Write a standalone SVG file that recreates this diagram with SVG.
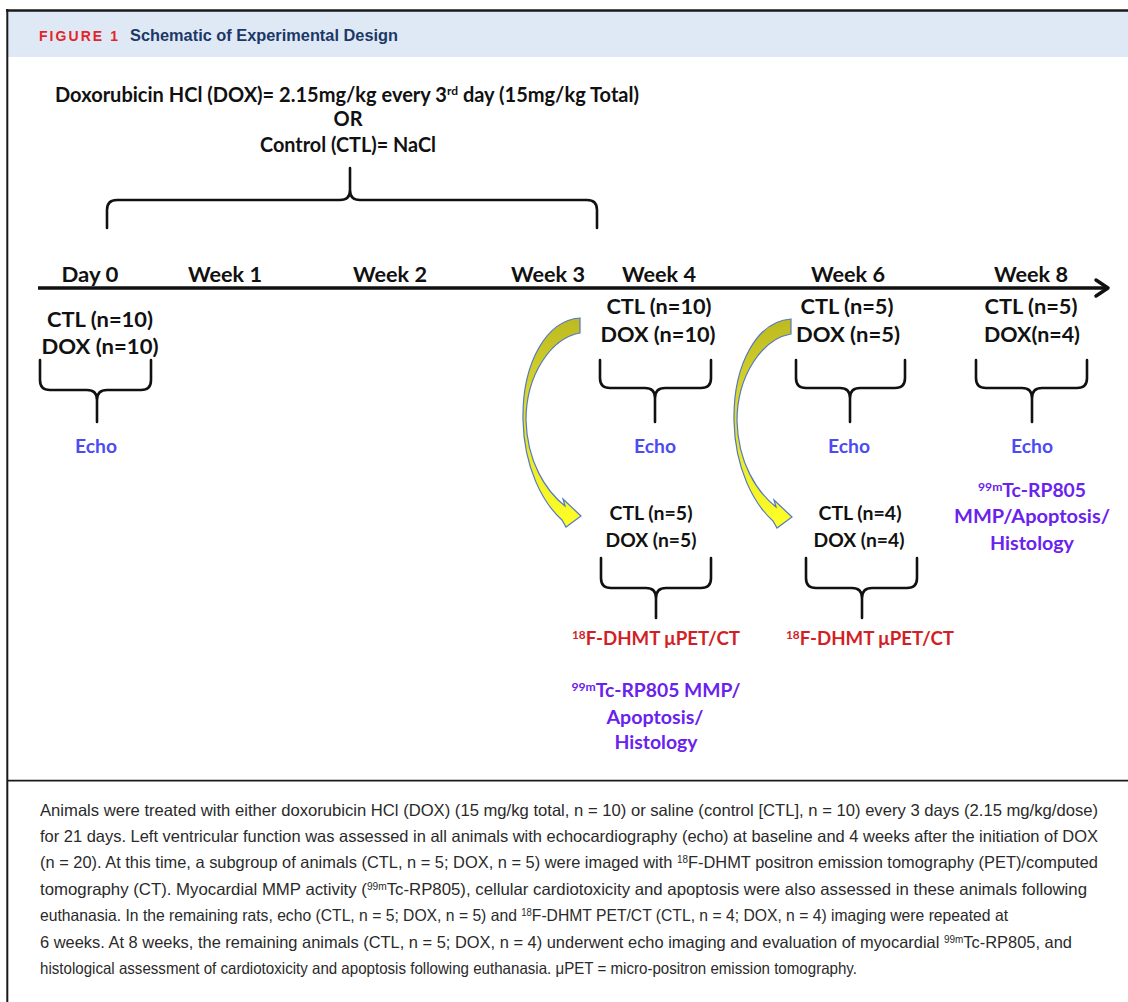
<svg xmlns="http://www.w3.org/2000/svg" width="1128" height="1002" viewBox="0 0 1128 1002">
<defs>
<style>
.d{font-family:Lato,"Open Sans","Liberation Sans",sans-serif;font-weight:bold;fill:#111;text-anchor:middle}
.wk{font-size:21px}
.n{font-size:21px}
.ns{font-size:19px}
.echo{font-size:18px;fill:#4c4cf2}
.pur{font-size:19px;fill:#6a22ee}
.red{font-size:19px;fill:#d21f26}
.sup{font-size:12px}
.br{fill:none;stroke:#111;stroke-width:2.6;stroke-linecap:round;stroke-linejoin:round}
.cap{font-family:"Liberation Sans",Arial,sans-serif;font-size:16.5px;fill:#2a2a2a}
.csup{font-size:10px}
.ya{fill:url(#yg);stroke:#5677c4;stroke-width:1.2}
</style>
<linearGradient id="yg" x1="0" y1="0" x2="0" y2="1">
<stop offset="0" stop-color="#bdb922"/>
<stop offset="0.45" stop-color="#dede2a"/>
<stop offset="1" stop-color="#ffff26"/>
</linearGradient>
</defs>
<rect x="0" y="0" width="1128" height="1002" fill="#fff"/>

<g id="frame">
<rect x="7" y="11" width="1121" height="46" fill="#dfe9f5"/>
<line x1="6" y1="10.5" x2="1128" y2="10.5" stroke="#1a1a1a" stroke-width="2.5"/>
<line x1="7.3" y1="9" x2="7.3" y2="1002" stroke="#1a1a1a" stroke-width="2"/>
<line x1="7" y1="780.7" x2="1128" y2="780.7" stroke="#1a1a1a" stroke-width="1.8"/>
</g>

<g id="header">
<text x="39" y="41" font-family="'Liberation Sans',Arial,sans-serif" font-weight="bold" font-size="14" fill="#e3242b" textLength="79" lengthAdjust="spacing">FIGURE 1</text>
<text x="130" y="41" font-family="'Liberation Sans',Arial,sans-serif" font-weight="bold" font-size="16.5" fill="#1c3867" textLength="268" lengthAdjust="spacingAndGlyphs">Schematic of Experimental Design</text>
</g>

<g id="treatment">
<text class="d" x="347" y="102" font-size="20" textLength="584" lengthAdjust="spacingAndGlyphs">Doxorubicin HCl (DOX)= 2.15mg/kg every 3<tspan class="sup" dy="-7">rd</tspan><tspan dy="7"> day (15mg/kg Total)</tspan></text>
<text class="d" x="348" y="126" font-size="20">OR</text>
<text class="d" x="348" y="152" font-size="20" textLength="176" lengthAdjust="spacingAndGlyphs">Control (CTL)= NaCl</text>
</g>

<g id="timeline-labels">
<text class="d wk" x="90" y="282" textLength="57" lengthAdjust="spacingAndGlyphs">Day 0</text>
<text class="d wk" x="225" y="282" textLength="74" lengthAdjust="spacingAndGlyphs">Week 1</text>
<text class="d wk" x="390" y="282" textLength="74" lengthAdjust="spacingAndGlyphs">Week 2</text>
<text class="d wk" x="548" y="282" textLength="74" lengthAdjust="spacingAndGlyphs">Week 3</text>
<text class="d wk" x="659" y="282" textLength="74" lengthAdjust="spacingAndGlyphs">Week 4</text>
<text class="d wk" x="848" y="282" textLength="74" lengthAdjust="spacingAndGlyphs">Week 6</text>
<text class="d wk" x="1031" y="282" textLength="74" lengthAdjust="spacingAndGlyphs">Week 8</text>
</g>

<g id="day0">
<text class="d n" x="100" y="327" textLength="106" lengthAdjust="spacingAndGlyphs">CTL (n=10)</text>
<text class="d n" x="100" y="354" textLength="117" lengthAdjust="spacingAndGlyphs">DOX (n=10)</text>
<text class="d echo" x="96" y="453" textLength="42" lengthAdjust="spacingAndGlyphs">Echo</text>
</g>

<g id="week4">
<text class="d n" x="659" y="314" textLength="105" lengthAdjust="spacingAndGlyphs">CTL (n=10)</text>
<text class="d n" x="658" y="342" textLength="115" lengthAdjust="spacingAndGlyphs">DOX (n=10)</text>
<text class="d echo" x="655" y="453" textLength="42" lengthAdjust="spacingAndGlyphs">Echo</text>
</g>

<g id="week6">
<text class="d n" x="847" y="314" textLength="93" lengthAdjust="spacingAndGlyphs">CTL (n=5)</text>
<text class="d n" x="848" y="342" textLength="104" lengthAdjust="spacingAndGlyphs">DOX (n=5)</text>
<text class="d echo" x="849" y="453" textLength="42" lengthAdjust="spacingAndGlyphs">Echo</text>
</g>

<g id="week8">
<text class="d n" x="1031" y="314" textLength="93" lengthAdjust="spacingAndGlyphs">CTL (n=5)</text>
<text class="d n" x="1032" y="342" textLength="96" lengthAdjust="spacingAndGlyphs">DOX(n=4)</text>
<text class="d echo" x="1032" y="453" textLength="42" lengthAdjust="spacingAndGlyphs">Echo</text>
<text class="d pur" x="1032" y="497" textLength="108" lengthAdjust="spacingAndGlyphs"><tspan class="sup" dy="-6">99m</tspan><tspan dy="6">Tc-RP805</tspan></text>
<text class="d pur" x="1032" y="523" textLength="156" lengthAdjust="spacingAndGlyphs">MMP/Apoptosis/</text>
<text class="d pur" x="1032" y="550" textLength="84" lengthAdjust="spacingAndGlyphs">Histology</text>
</g>

<g id="week4-pet">
<text class="d ns" x="651" y="520" textLength="83" lengthAdjust="spacingAndGlyphs">CTL (n=5)</text>
<text class="d ns" x="651" y="547" textLength="91" lengthAdjust="spacingAndGlyphs">DOX (n=5)</text>
<text class="d red" x="656" y="645" textLength="168" lengthAdjust="spacingAndGlyphs"><tspan class="sup" dy="-6">18</tspan><tspan dy="6">F-DHMT μPET/CT</tspan></text>
<text class="d pur" x="656" y="697" textLength="169" lengthAdjust="spacingAndGlyphs"><tspan class="sup" dy="-6">99m</tspan><tspan dy="6">Tc-RP805 MMP/</tspan></text>
<text class="d pur" x="655" y="724" textLength="97" lengthAdjust="spacingAndGlyphs">Apoptosis/</text>
<text class="d pur" x="656" y="749" textLength="83" lengthAdjust="spacingAndGlyphs">Histology</text>
</g>

<g id="week6-pet">
<text class="d ns" x="860" y="520" textLength="83" lengthAdjust="spacingAndGlyphs">CTL (n=4)</text>
<text class="d ns" x="859" y="547" textLength="91" lengthAdjust="spacingAndGlyphs">DOX (n=4)</text>
<text class="d red" x="870" y="645" textLength="168" lengthAdjust="spacingAndGlyphs"><tspan class="sup" dy="-6">18</tspan><tspan dy="6">F-DHMT μPET/CT</tspan></text>
</g>

<g id="connectors">
<line x1="38" y1="288" x2="1106" y2="288" stroke="#111" stroke-width="3.5"/>
<polyline points="1096,280 1108,288 1096,296" fill="none" stroke="#111" stroke-width="3.5" stroke-linecap="round" stroke-linejoin="round"/>
<path class="br" d="M107,228 V210 Q107,200 117,200 H340 Q350,200 350,190 V168 M350,190 Q350,200 360,200 H587 Q597,200 597,210 V228"/>
<path class="br" d="M40,360 V380 Q40,390 50,390 H87 Q97,390 97,400 V422 M97,400 Q97,390 107,390 H141 Q151,390 151,380 V360"/>
<path class="br" d="M600,360 V378 Q600,388 610,388 H645 Q655,388 655,398 V422 M655,398 Q655,388 665,388 H701 Q711,388 711,378 V360"/>
<path class="br" d="M796,360 V378 Q796,388 806,388 H840 Q850,388 850,398 V422 M850,398 Q850,388 860,388 H895 Q905,388 905,378 V360"/>
<path class="br" d="M976,360 V378 Q976,388 986,388 H1022 Q1032,388 1032,398 V422 M1032,398 Q1032,388 1042,388 H1077 Q1087,388 1087,378 V360"/>
<path class="br" d="M601,558 V578 Q601,588 611,588 H646 Q656,588 656,598 V618 M656,598 Q656,588 666,588 H701 Q711,588 711,578 V558"/>
<path class="br" d="M806,558 V578 Q806,588 816,588 H852 Q862,588 862,598 V618 M862,598 Q862,588 872,588 H907 Q917,588 917,578 V558"/>
<path id="arrow1" class="ya" d="M580,318 C547,320 522,362 523,420 C524,468 543,503 562,520 L566,527 L581,516 L563,499 L565,506 C546,491 527,462 526,420 C526,375 551,338 580,333 Z"/>
<path id="arrow2" class="ya" transform="translate(211,1)" d="M580,318 C547,320 522,362 523,420 C524,468 543,503 562,520 L566,527 L581,516 L563,499 L565,506 C546,491 527,462 526,420 C526,375 551,338 580,333 Z"/>
</g>

<g id="caption">
<text class="cap" x="40" y="816" textLength="1058" lengthAdjust="spacingAndGlyphs">Animals were treated with either doxorubicin HCl (DOX) (15 mg/kg total, n = 10) or saline (control [CTL], n = 10) every 3 days (2.15 mg/kg/dose)</text>
<text class="cap" x="40" y="842" textLength="1058" lengthAdjust="spacingAndGlyphs">for 21 days. Left ventricular function was assessed in all animals with echocardiography (echo) at baseline and 4 weeks after the initiation of DOX</text>
<text class="cap" x="40" y="868" textLength="1058" lengthAdjust="spacingAndGlyphs">(n = 20). At this time, a subgroup of animals (CTL, n = 5; DOX, n = 5) were imaged with <tspan class="csup" dy="-5">18</tspan><tspan dy="5">F-DHMT positron emission tomography (PET)/computed</tspan></text>
<text class="cap" x="40" y="895" textLength="1047" lengthAdjust="spacingAndGlyphs">tomography (CT). Myocardial MMP activity (<tspan class="csup" dy="-5">99m</tspan><tspan dy="5">Tc-RP805), cellular cardiotoxicity and apoptosis were also assessed in these animals following</tspan></text>
<text class="cap" x="40" y="921" textLength="968" lengthAdjust="spacingAndGlyphs">euthanasia. In the remaining rats, echo (CTL, n = 5; DOX, n = 5) and <tspan class="csup" dy="-5">18</tspan><tspan dy="5">F-DHMT PET/CT (CTL, n = 4; DOX, n = 4) imaging were repeated at</tspan></text>
<text class="cap" x="40" y="948" textLength="1032" lengthAdjust="spacingAndGlyphs">6 weeks. At 8 weeks, the remaining animals (CTL, n = 5; DOX, n = 4) underwent echo imaging and evaluation of myocardial <tspan class="csup" dy="-5">99m</tspan><tspan dy="5">Tc-RP805, and</tspan></text>
<text class="cap" x="40" y="974" textLength="817" lengthAdjust="spacingAndGlyphs">histological assessment of cardiotoxicity and apoptosis following euthanasia. μPET = micro-positron emission tomography.</text>
</g>
</svg>
